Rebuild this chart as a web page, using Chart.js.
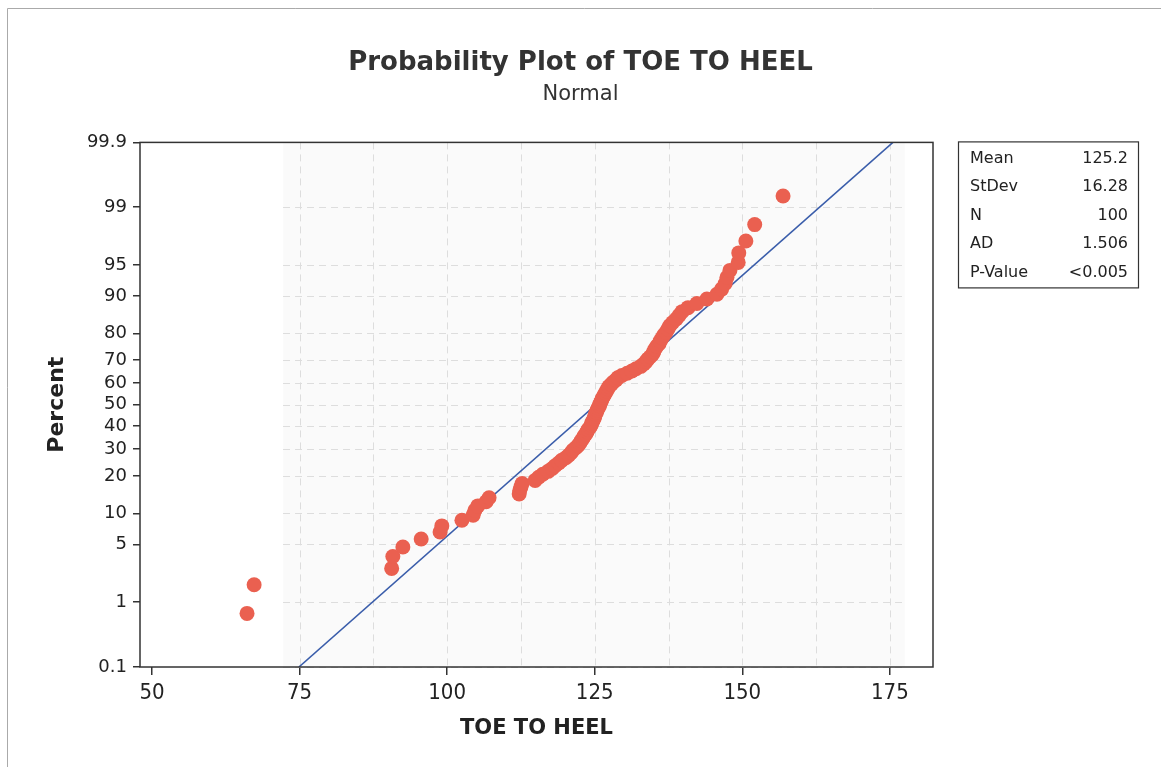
<!DOCTYPE html>
<html>
<head>
<meta charset="utf-8">
<script src="https://cdn.jsdelivr.net/npm/chart.js@4.4.1/dist/chart.umd.min.js"></script>
<style>
  html, body { margin: 0; padding: 0; background: #fff; }
</style>
</head>
<body>
<canvas id="chart" width="1161" height="767"></canvas>
<script>
const toeToHeel = [
	66.1, 67.3, 90.6, 90.8, 92.5, 95.6, 98.8, 99.1, 102.5, 104.4,
	104.7, 105.2, 106.6, 107.1, 112.2, 112.3, 112.5, 112.7, 114.9, 115.5,
	116.2, 117.1, 117.8, 118.3, 118.9, 119.4, 120.1, 120.6, 121.0, 121.3,
	121.8, 122.2, 122.5, 122.7, 123.0, 123.2, 123.5, 123.7, 123.9, 124.2,
	124.4, 124.5, 124.7, 124.9, 125.0, 125.1, 125.3, 125.4, 125.6, 125.8,
	125.9, 126.1, 126.2, 126.4, 126.6, 126.8, 127.0, 127.2, 127.4, 127.8,
	128.1, 128.6, 128.9, 129.6, 130.5, 131.3, 132.0, 132.8, 133.3, 133.7,
	134.0, 134.4, 134.8, 135.0, 135.2, 135.5, 135.9, 136.1, 136.4, 136.7,
	137.1, 137.4, 137.7, 138.2, 138.8, 139.3, 139.8, 140.8, 142.3, 144.0,
	145.7, 146.5, 147.1, 147.4, 147.9, 149.3, 149.4, 150.6, 152.1, 156.9,
];
const percentTicks = [0.1, 1, 5, 10, 20, 30, 40, 50, 60, 70, 80, 90, 95, 99, 99.9];
const xTicks = [50, 75, 100, 125, 150, 175];
const xGrid = [75, 87.5, 100, 112.5, 125, 137.5, 150, 162.5, 175];
const statLabels = ['Mean', 'StDev', 'N', 'AD', 'P-Value'];
const statValues = ['125.2', '16.28', '100', '1.506', '<0.005'];
const mean = 125.2;
const stDev = 16.28;

// inverse normal cdf (Acklam)
function probit(p) {
	const a = [-39.69683028665376, 220.9460984245205, -275.9285104469687, 138.3577518672690, -30.66479806614716, 2.506628277459239];
	const b = [-54.47609879822406, 161.5858368580409, -155.6989798598866, 66.80131188771972, -13.28068155288572];
	const c = [-0.007784894002430293, -0.3223964580411365, -2.400758277161838, -2.549732539343734, 4.374664141464968, 2.938163982698783];
	const d = [0.007784695709041462, 0.3224671290700398, 2.445134137142996, 3.754408661907416];
	const pl = 0.02425;
	let q, r;
	if (p < pl) {
		q = Math.sqrt(-2 * Math.log(p));
		return (((((c[0] * q + c[1]) * q + c[2]) * q + c[3]) * q + c[4]) * q + c[5]) / ((((d[0] * q + d[1]) * q + d[2]) * q + d[3]) * q + 1);
	}
	if (p > 1 - pl) {
		q = Math.sqrt(-2 * Math.log(1 - p));
		return -(((((c[0] * q + c[1]) * q + c[2]) * q + c[3]) * q + c[4]) * q + c[5]) / ((((d[0] * q + d[1]) * q + d[2]) * q + d[3]) * q + 1);
	}
	q = p - 0.5;
	r = q * q;
	return (((((a[0] * r + a[1]) * r + a[2]) * r + a[3]) * r + a[4]) * r + a[5]) * q / (((((b[0] * r + b[1]) * r + b[2]) * r + b[3]) * r + b[4]) * r + 1);
}

const n = toeToHeel.length;
const points = toeToHeel.map((v, i) => ({ x: v, y: probit((i + 1 - 0.3) / (n + 0.4)) }));
const zMin = probit(0.001);
const zMax = probit(0.999);
const fitLine = [
	{ x: mean + stDev * zMin, y: zMin },
	{ x: mean + stDev * zMax, y: zMax },
];

Chart.defaults.font.family = "'DejaVu Sans', Verdana, sans-serif";
Chart.defaults.color = '#222';

const framePlugin = {
	id: 'frame',
	beforeDatasetsDraw(chart) {
		const { ctx, chartArea, scales } = chart;
		const x0 = scales.x.getPixelForValue(72.2);
		const x1 = scales.x.getPixelForValue(177.55);
		ctx.save();
		ctx.fillStyle = 'rgba(0,0,0,0.018)';
		ctx.fillRect(x0, chartArea.top, x1 - x0, chartArea.bottom - chartArea.top);
		ctx.strokeStyle = '#dddddd';
		ctx.lineWidth = 1;
		ctx.setLineDash([7, 5]);
		percentTicks.forEach((p) => {
			const y = Math.round(scales.y.getPixelForValue(probit(p / 100))) + 0.5;
			ctx.beginPath();
			ctx.moveTo(x0, y);
			ctx.lineTo(x1, y);
			ctx.stroke();
		});
		xGrid.forEach((v) => {
			const x = Math.round(scales.x.getPixelForValue(v)) + 0.5;
			ctx.beginPath();
			ctx.moveTo(x, chartArea.top);
			ctx.lineTo(x, chartArea.bottom);
			ctx.stroke();
		});
		ctx.restore();
	},
	afterDraw(chart) {
		const { ctx, chartArea } = chart;
		ctx.save();
		// page border
		ctx.strokeStyle = '#aaaaaa';
		ctx.lineWidth = 1;
		ctx.beginPath();
		ctx.moveTo(7.5, chart.height);
		ctx.lineTo(7.5, 8.5);
		ctx.lineTo(chart.width, 8.5);
		ctx.stroke();
		// plot frame
		ctx.strokeStyle = '#333';
		ctx.lineWidth = 1.5;
		ctx.strokeRect(chartArea.left, chartArea.top, chartArea.right - chartArea.left, chartArea.bottom - chartArea.top);
		// stats box
		const bx = chartArea.right + 25;
		const by = chartArea.top - 1;
		const bw = 180;
		const bh = 146;
		ctx.lineWidth = 1.2;
		ctx.strokeRect(bx + 0.5, by + 0.5, bw, bh);
		ctx.font = "16px 'DejaVu Sans', Verdana, sans-serif";
		ctx.fillStyle = '#222';
		ctx.textBaseline = 'middle';
		statLabels.forEach((label, i) => {
			const y = by + 17 + i * 28.5;
			ctx.textAlign = 'left';
			ctx.fillText(label, bx + 12, y);
			ctx.textAlign = 'right';
			ctx.fillText(statValues[i], bx + bw - 10, y);
		});
		ctx.restore();
	},
};

new Chart(document.getElementById('chart'), {
	type: 'scatter',
	data: {
		datasets: [
			{
				label: 'TOE TO HEEL',
				data: points,
				backgroundColor: 'rgb(234,96,80)',
				borderWidth: 0,
				pointRadius: 7.5,
			},
			{
				type: 'line',
				label: 'Fit',
				data: fitLine,
				borderColor: '#3a5daa',
				borderWidth: 1.6,
				pointRadius: 0,
				fill: false,
			},
		],
	},
	options: {
		responsive: false,
		animation: false,
		devicePixelRatio: 1,
		layout: { padding: 0 },
		plugins: {
			legend: { display: false },
			tooltip: { enabled: false },
			title: {
				display: true,
				text: 'Probability Plot of TOE TO HEEL',
				color: '#333',
				font: { size: 26, weight: 'bold' },
				padding: { top: 48, bottom: 0 },
			},
			subtitle: {
				display: true,
				text: 'Normal',
				color: '#333',
				font: { size: 21 },
				padding: { top: 3, bottom: 35 },
			},
		},
		scales: {
			x: {
				type: 'linear',
				min: 47.97,
				max: 182.3,
				afterFit: (scale) => { scale.height = 100; },
				afterBuildTicks: (scale) => { scale.ticks = xTicks.map((v) => ({ value: v })); },
				border: { display: false },
				grid: { drawOnChartArea: false, drawTicks: true, tickLength: 8, color: '#333', lineWidth: 1.5 },
				ticks: {
					autoSkip: false,
					maxRotation: 0,
					padding: 5,
					color: '#222',
					font: { size: 22, family: "'DejaVu Sans Condensed', 'DejaVu Sans', sans-serif" },
				},
				title: {
					display: true,
					text: 'TOE TO HEEL',
					color: '#222',
					font: { size: 21, weight: 'bold' },
					padding: { top: 0, bottom: 26 },
				},
			},
			y: {
				type: 'linear',
				min: zMin,
				max: zMax,
				afterFit: (scale) => { scale.width = 140; },
				afterBuildTicks: (scale) => { scale.ticks = percentTicks.map((p) => ({ value: probit(p / 100) })); },
				border: { display: false },
				grid: { drawOnChartArea: false, drawTicks: true, tickLength: 7, color: '#333', lineWidth: 1.5 },
				ticks: {
					autoSkip: false,
					padding: 6,
					color: '#222',
					font: { size: 18 },
					callback: (value, index) => percentTicks[index],
				},
				title: {
					display: true,
					text: 'Percent',
					color: '#222',
					font: { size: 22, weight: 'bold' },
					padding: { top: 44, bottom: 0 },
				},
			},
			// empty right-hand scale that reserves room for the stats box
			side: {
				type: 'linear',
				position: 'right',
				afterFit: (scale) => { scale.width = 228; },
				border: { display: false },
				grid: { display: false },
				ticks: { display: false },
			},
		},
	},
	plugins: [framePlugin],
});
</script>
</body>
</html>
